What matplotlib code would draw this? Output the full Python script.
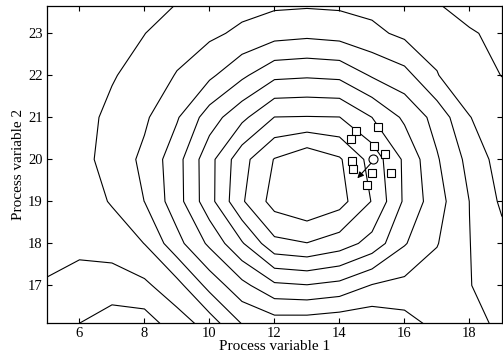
import numpy as np
import matplotlib
matplotlib.use("Agg")
import matplotlib.pyplot as plt

plt.rcParams['font.family'] = ['Liberation Serif', 'DejaVu Serif']

# grid of the response surface
x_vals = [5, 6, 7, 8, 9, 10, 11, 12, 13, 14, 15, 16, 17, 18, 19]
y_vals = [16, 17, 18, 19, 20, 21, 22, 23, 24]
z_rows = [
    [-0.5, -1.06, -1.9, -1.63, -0.6, 0.28, 1.86, 2.25, 2.19, 2.02, 2.05, 2.5, 3.17, 3.2, 2.9],
    [-0.05, -0.47, -0.23, -0.2, 0.65, 2.33, 3.7, 4.8, 4.95, 4.7, 3.94, 3.71, 3.5, 3.03, 2.6],
    [0.2, 0.3, 0.2, 1.02, 2.66, 4.2, 5.9, 7.73, 7.97, 7.5, 6.64, 5.08, 4.05, 3.02, 2.3],
    [0.2, 0.26, 1.12, 2.01, 3.58, 5.64, 7.88, 9.4, 9.9, 9.37, 7.95, 5.84, 4.4, 2.99, 1.83],
    [0.4, 0.67, 1.4, 2.22, 3.62, 5.66, 7.65, 9.05, 9.75, 9.12, 7.62, 5.82, 4.1, 2.69, 1.54],
    [0.4, 0.55, 1.3, 1.84, 2.9, 4.5, 5.75, 7.02, 7.05, 7.02, 6.0, 4.82, 3.63, 2.04, 1.25],
    [0.45, 0.6, 0.9, 1.5, 2.05, 2.8, 3.8, 4.77, 4.87, 4.77, 3.9, 3.35, 2.05, 1.2, 0.99],
    [0.5, 0.55, 0.75, 0.98, 1.6, 1.8, 2.2, 2.6, 2.74, 2.6, 2.25, 1.77, 1.6, 1.1, 0.75],
    [0.4, 0.45, 0.6, 0.7, 0.77, 1.35, 1.45, 1.49, 1.49, 1.49, 1.45, 1.2, 0.8, 0.39, 0.5],
]
levels = [-1, 0, 1, 2, 3, 4, 5, 6, 7, 8, 9]

# experiment points (squares), current point (circle) and the step arrow
pts_x = [14.51, 14.35, 15.17, 15.07, 15.41, 14.37, 14.42, 15.0, 15.58, 14.86]
pts_y = [20.68, 20.48, 20.76, 20.33, 20.12, 19.97, 19.77, 19.68, 19.67, 19.39]
center = (15.02, 20.0)
arrow_tail = (14.97, 19.91)
arrow_tip = (14.55, 19.55)

fig = plt.figure(figsize=(5.03, 3.63), dpi=100)
ax = fig.add_axes([0.0934, 0.1094, 0.9046, 0.8741])

X, Y = np.meshgrid(x_vals, y_vals)
ax.contour(X, Y, np.array(z_rows), levels=levels, colors='k', linewidths=0.8,
           linestyles='solid')

ax.plot(pts_x, pts_y, 's', mfc='white', mec='k', ms=5.8, mew=0.8)
ax.plot(*center, 'o', mfc='white', mec='k', ms=6.5, mew=0.8)
ax.annotate('', xy=arrow_tip, xytext=arrow_tail,
            arrowprops=dict(arrowstyle='-|>', color='k', lw=0.8,
                            mutation_scale=9, shrinkA=0, shrinkB=0))

ax.set_xlim(5, 19)
ax.set_ylim(16.1, 23.65)
ax.set_xticks([6, 8, 10, 12, 14, 16, 18])
ax.set_yticks([17, 18, 19, 20, 21, 22, 23])
ax.tick_params(direction='in', top=True, right=True, length=3.5, width=0.8,
               labelsize=10.5, pad=3)
for s in ax.spines.values():
    s.set_linewidth(0.9)

ax.set_xlabel('Process variable 1', fontsize=11, labelpad=0)
ax.set_ylabel('Process variable 2', fontsize=11, labelpad=2)

fig.savefig('out.png', dpi=100)
